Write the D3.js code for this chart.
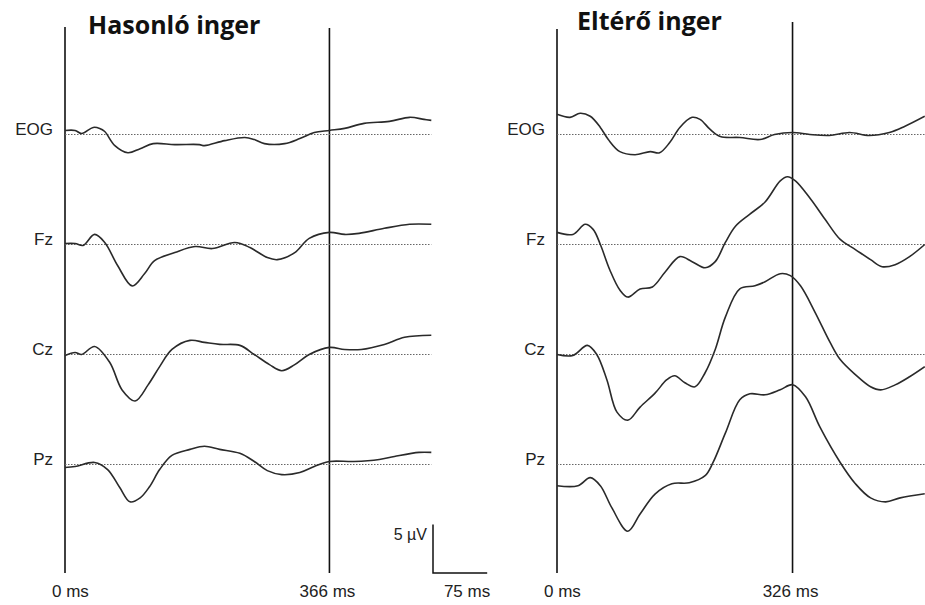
<!DOCTYPE html>
<html>
<head>
<meta charset="utf-8">
<script src="https://cdn.jsdelivr.net/npm/d3@7"></script>
<style>
  body { margin: 0; background: #fff; }
  text { font-family: "Liberation Sans", Arial, sans-serif; fill: #222; }
  .title { font-family: "Open Sans", sans-serif; font-weight: bold; fill: #111; }
</style>
</head>
<body>
<svg id="chart" width="925" height="605"></svg>
<script>
const channels = ['EOG', 'Fz', 'Cz', 'Pz'];

// [ms, µV] pairs, positive up
const similarEOG = [[0,0.42],[14,0.42],[23,0.1],[39,0.73],[48,0.63],[55,0.31],[69,-1.15],[87,-1.88],[104,-1.46],[122,-0.94],[152,-1.04],[186,-1.04],[193,-1.15],[221,-0.63],[249,-0.31],[262,-0.52],[276,-0.94],[304,-0.94],[325,-0.42],[345,0.21],[366,0.42],[387,0.63],[414,1.15],[449,1.35],[477,1.77],[497,1.56],[507,1.46]];
const similarFz = [[0,0.1],[14,0.1],[25,-0.1],[41,1.04],[55,0.21],[73,-2.19],[93,-4.27],[110,-3.02],[124,-1.67],[152,-0.83],[180,-0.21],[204,-0.42],[235,0.21],[256,-0.31],[280,-1.35],[294,-1.56],[318,-0.83],[338,0.63],[366,1.25],[387,1.04],[407,1.15],[442,1.67],[477,2.08],[507,2.08]];
const similarCz = [[0,-0.1],[14,0.21],[23,0],[41,0.83],[62,-0.83],[79,-3.65],[97,-4.79],[115,-3.13],[131,-1.25],[148,0.52],[173,1.46],[193,1.25],[214,1.04],[242,0.94],[262,0],[283,-1.04],[300,-1.67],[318,-1.04],[338,0],[366,0.73],[387,0.52],[410,0.52],[442,1.04],[470,1.77],[507,1.98]];
const similarPz = [[0,-0.31],[14,-0.21],[41,0.21],[59,-0.52],[76,-2.4],[90,-3.85],[104,-3.44],[117,-2.29],[131,-0.52],[148,0.94],[173,1.56],[193,1.88],[214,1.56],[242,1.15],[262,0.31],[280,-0.63],[300,-1.04],[325,-0.83],[345,-0.21],[366,0.31],[400,0.31],[435,0.52],[456,0.83],[490,1.25],[507,1.25]];

const deviantEOG = [[0,2.08],[18,1.77],[32,2.19],[46,1.88],[60,0.73],[71,-0.52],[87,-1.77],[108,-2.08],[129,-1.77],[142,-1.88],[156,-0.83],[170,0.73],[187,1.77],[198,1.56],[212,0.52],[226,-0.21],[253,-0.31],[281,-0.52],[301,0],[326,0.21],[350,0],[377,-0.1],[405,0.21],[432,-0.1],[460,0.21],[481,0.83],[509,1.88]];
const deviantFz = [[0,1.25],[22,1.04],[39,2.08],[50,1.56],[60,0],[73,-2.6],[87,-4.69],[98,-5.42],[115,-4.58],[132,-4.38],[150,-2.81],[170,-1.25],[187,-1.77],[205,-2.4],[219,-1.77],[233,0.21],[247,1.88],[267,3.13],[288,4.38],[309,6.56],[319,6.98],[330,6.56],[351,4.69],[371,2.6],[392,0.52],[413,-0.52],[434,-1.56],[450,-2.29],[468,-2.08],[488,-1.25],[509,0]];
const deviantCz = [[0,0],[22,-0.1],[42,0.94],[55,0],[69,-2.6],[83,-5.94],[98,-6.77],[115,-5.42],[136,-3.96],[152,-2.6],[163,-2.19],[177,-2.92],[191,-3.33],[205,-1.88],[219,0.52],[233,3.85],[253,6.77],[274,7.08],[288,7.5],[309,8.33],[323,8.13],[337,7.08],[357,4.38],[378,1.25],[392,-0.52],[413,-2.08],[434,-3.33],[448,-3.65],[468,-3.13],[488,-2.29],[509,-1.25]];
const deviantPz = [[0,-2.19],[29,-2.19],[46,-1.35],[60,-2.19],[76,-4.48],[98,-6.88],[115,-5.1],[136,-3.02],[159,-1.98],[183,-1.88],[205,-1.15],[216,0.21],[233,3.23],[253,6.67],[267,7.29],[288,7.19],[309,7.71],[326,8.23],[344,6.98],[364,3.85],[392,0.21],[413,-1.98],[434,-3.44],[455,-3.85],[475,-3.44],[509,-3.02]];

const panels = [
  { title: 'Hasonló inger', marker: 366, end: 507, waves: [similarEOG, similarFz, similarCz, similarPz] },
  { title: 'Eltérő inger', marker: 326, end: 510, waves: [deviantEOG, deviantFz, deviantCz, deviantPz] }
];

const scaleBarMs = 75;
const scaleBarUv = 5;

const svg = d3.select('#chart');
const pxPerMs = 0.7225;
const pxPerUv = 9.7;
const origins = [65, 557];

const channelY = d3.scalePoint()
  .domain(channels)
  .range([134.5, 464.5]);

const uv = d3.scaleLinear()
  .domain([0, 1])
  .range([0, -pxPerUv]);

panels.forEach(function(p, i) {
  const x = d3.scaleLinear()
    .domain([0, 510])
    .range([origins[i], origins[i] + 510 * pxPerMs]);
  const g = svg.append('g');

  // title
  g.append('text')
    .attr('class', 'title')
    .attr('x', i === 0 ? 88 : 577)
    .attr('y', i === 0 ? 34 : 30)
    .style('font-size', '25px')
    .text(p.title);

  // onset and peak marker lines
  g.append('line')
    .attr('x1', x(0)).attr('x2', x(0))
    .attr('y1', i === 0 ? 27 : 29).attr('y2', 573)
    .attr('stroke', '#111').attr('stroke-width', 1.6);
  g.append('line')
    .attr('x1', x(p.marker)).attr('x2', x(p.marker))
    .attr('y1', i === 0 ? 28 : 22).attr('y2', 573)
    .attr('stroke', '#111').attr('stroke-width', 1.6);

  const line = d3.line()
    .x(function(d) { return x(d[0]); })
    .curve(d3.curveCatmullRom.alpha(0.5));

  channels.forEach(function(ch, j) {
    const y0 = channelY(ch);

    // dotted zero line
    g.append('line')
      .attr('x1', x(0)).attr('x2', x(p.end))
      .attr('y1', y0).attr('y2', y0)
      .attr('stroke', '#666')
      .attr('stroke-width', 1)
      .attr('stroke-dasharray', '1.5,1.5');

    g.append('path')
      .datum(p.waves[j])
      .attr('d', line.y(function(d) { return y0 + uv(d[1]); }))
      .attr('fill', 'none')
      .attr('stroke', '#2a2a2a')
      .attr('stroke-width', 1.6);

    g.append('text')
      .attr('x', x(0) - 12)
      .attr('y', y0)
      .attr('text-anchor', 'end')
      .style('font-size', '17px')
      .text(ch);
  });

  // time labels
  g.append('text')
    .attr('x', x(0) - 13).attr('y', 597)
    .style('font-size', '17px')
    .text('0 ms');
  g.append('text')
    .attr('x', x(p.marker) - 2).attr('y', 597)
    .attr('text-anchor', 'middle')
    .style('font-size', '17px')
    .text(p.marker + ' ms');

  if (i === 0) {
    // calibration bar
    const bx = 433, by = 573;
    const barW = x(scaleBarMs) - x(0);
    const barH = -uv(scaleBarUv);
    g.append('path')
      .attr('d', 'M' + bx + ',' + (by - barH) + 'V' + by + 'H' + (bx + barW))
      .attr('fill', 'none')
      .attr('stroke', '#111')
      .attr('stroke-width', 1.5);
    g.append('text')
      .attr('x', bx - 6).attr('y', by - barH + 15)
      .attr('text-anchor', 'end')
      .style('font-size', '16px')
      .text(scaleBarUv + ' µV');
    g.append('text')
      .attr('x', bx + barW + 3).attr('y', 597)
      .attr('text-anchor', 'end')
      .style('font-size', '17px')
      .text(scaleBarMs + ' ms');
  }
});
</script>
</body>
</html>
